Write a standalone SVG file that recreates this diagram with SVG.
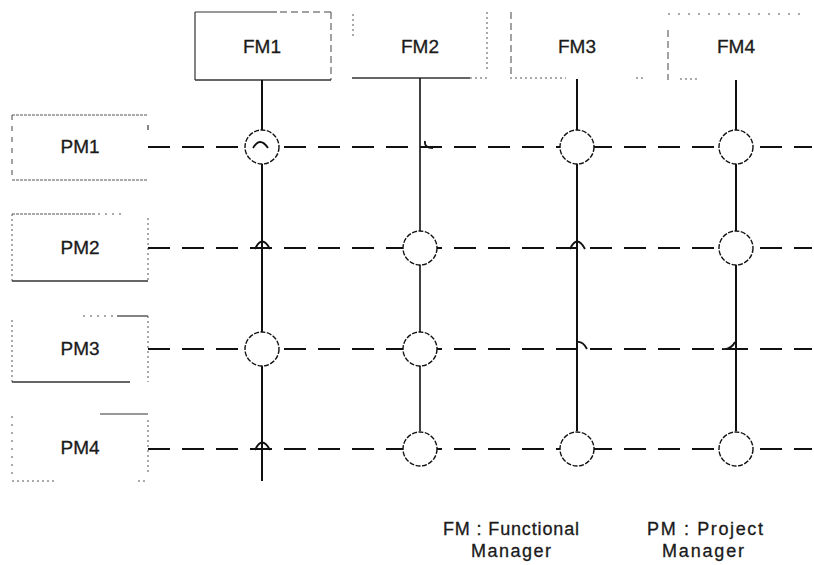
<svg xmlns="http://www.w3.org/2000/svg" width="814" height="565" viewBox="0 0 814 565">
<style>
  .bg { fill: #ffffff; }
  .lbl { font-family: "Liberation Sans", Arial, sans-serif; font-size: 19px; fill: #1a1a1a; stroke: #1a1a1a; stroke-width: 0.3; text-anchor: middle; }
  .leg { font-family: "Liberation Sans", Arial, sans-serif; font-size: 18px; fill: #1a1a1a; stroke: #1a1a1a; stroke-width: 0.3; text-anchor: middle; }
  .solid { stroke: #333; stroke-width: 1.2; fill: none; }
  .dash { stroke: #444; stroke-width: 1; fill: none; stroke-dasharray: 7 4; }
  .dot { stroke: #555; stroke-width: 1; fill: none; stroke-dasharray: 2 3; }
  .vline { stroke: #111; stroke-width: 2; fill: none; }
  .hline { stroke: #111; stroke-width: 2.2; fill: none; stroke-dasharray: 22 12; }
  .node { fill: #fff; stroke: #111; stroke-width: 1.4; stroke-dasharray: 5 1.5; }
  .hop { fill: none; stroke: #111; stroke-width: 1.8; }
</style>
<rect class="bg" x="0" y="0" width="814" height="565"/>

<!-- Functional manager boxes -->
<g id="FM1">
  <path class="solid" d="M195 12 H277 M195 12 V80"/>
  <path class="dash" d="M280 12 H331 M331 12 V80"/>
  <path class="solid" d="M195 80 H331" style="stroke-width:1.6"/>
  <text class="lbl" x="262" y="53">FM1</text>
</g>
<g id="FM2">
  <path class="dot" d="M353 14 V37 M487 12 V72 M470 78 H488"/>
  <path class="solid" d="M352 78 H470" style="stroke-width:1.4"/>
  <text class="lbl" x="420" y="53">FM2</text>
</g>
<g id="FM3">
  <path class="dash" d="M511 12 V75"/>
  <path class="dot" d="M510 78 H566 M636 78 H645"/>
  <text class="lbl" x="577" y="53">FM3</text>
</g>
<g id="FM4">
  <path class="dot" d="M668 14 H805" style="stroke-dasharray:2 8"/>
  <path class="dash" d="M668 30 V80"/>
  <path class="dot" d="M680 79 H700"/>
  <text class="lbl" x="736" y="53">FM4</text>
</g>

<!-- Project manager boxes -->
<g id="PM1">
  <path class="dot" d="M12 115 H148" style="stroke-dasharray:3 1"/>
  <path class="dash" d="M12 115 V180" style="stroke-dasharray:5 6"/>
  <path class="dot" d="M12 180 H148" style="stroke-dasharray:3 1"/>
  <path class="solid" d="M148 125 V130"/>
  <text class="lbl" x="80" y="153">PM1</text>
</g>
<g id="PM2">
  <path class="dot" d="M12 214 H95" style="stroke-dasharray:3 1"/>
  <path class="dot" d="M98 214 H122" style="stroke-dasharray:2 5"/>
  <path class="dot" d="M12 214 V281 M148 218 V281"/>
  <path class="solid" d="M12 281 H148" style="stroke-width:1.5"/>
  <text class="lbl" x="80" y="254">PM2</text>
</g>
<g id="PM3">
  <path class="dot" d="M83 316 H115" style="stroke-dasharray:2 5"/>
  <path class="solid" d="M117 316 H148"/>
  <path class="dot" d="M12 320 V382 M148 316 V382"/>
  <path class="solid" d="M12 382 H130" style="stroke-width:1.5"/>
  <text class="lbl" x="80" y="355">PM3</text>
</g>
<g id="PM4">
  <path class="solid" d="M100 414 H148"/>
  <path class="dot" d="M12 416 V475" style="stroke-dasharray:2 6"/>
  <path class="dot" d="M148 420 V475"/>
  <path class="dot" d="M12 481 H55 M138 481 H146"/>
  <text class="lbl" x="80" y="454">PM4</text>
</g>

<!-- Connectors -->
<g id="connectors">
  <path class="vline" d="M262 80 V481"/>
  <path class="vline" d="M420 78 V431" style="stroke-width:1.6"/>
  <path class="vline" d="M577 79 V431"/>
  <path class="vline" d="M736 80 V431"/>
  <path class="hline" d="M148 147 H812"/>
  <path class="hline" d="M148 248 H812"/>
  <path class="hline" d="M148 349 H812"/>
  <path class="hline" d="M148 449 H812"/>
  <!-- line hops at crossings without a node -->
  <path class="hop" d="M425 141 Q424 148 433 148"/>
  <path class="hop" d="M255 249 Q262 234 270 249"/>
  <path class="hop" d="M570 249 Q577 234 585 249"/>
  <path class="hop" d="M577 342 Q583 341 587 349"/>
  <path class="hop" d="M722 349 Q731 350 735 342"/>
  <path class="hop" d="M255 450 Q262 435 270 450"/>
</g>

<!-- Intersection nodes -->
<g id="nodes">
  <g id="n-PM1-FM1"><circle class="node" cx="262" cy="147" r="17"/><path class="hop" d="M253 148 Q260 136 268 148"/></g>
  <g id="n-PM1-FM3"><circle class="node" cx="577" cy="147" r="17"/></g>
  <g id="n-PM1-FM4"><circle class="node" cx="736" cy="147" r="17"/></g>
  <g id="n-PM2-FM2"><circle class="node" cx="420" cy="248" r="17"/></g>
  <g id="n-PM2-FM4"><circle class="node" cx="736" cy="248" r="17"/></g>
  <g id="n-PM3-FM1"><circle class="node" cx="262" cy="349" r="17"/></g>
  <g id="n-PM3-FM2"><circle class="node" cx="420" cy="349" r="17"/></g>
  <g id="n-PM4-FM2"><circle class="node" cx="420" cy="449" r="17"/></g>
  <g id="n-PM4-FM3"><circle class="node" cx="577" cy="449" r="17"/></g>
  <g id="n-PM4-FM4"><circle class="node" cx="736" cy="449" r="17"/></g>
</g>

<!-- Legend -->
<g id="legend">
  <text class="leg" x="511" y="535" textLength="136" lengthAdjust="spacing">FM : Functional</text>
  <text class="leg" x="511" y="557" textLength="80" lengthAdjust="spacing">Manager</text>
  <text class="leg" x="705" y="535" textLength="116" lengthAdjust="spacing">PM : Project</text>
  <text class="leg" x="703" y="557" textLength="82" lengthAdjust="spacing">Manager</text>
</g>
</svg>
